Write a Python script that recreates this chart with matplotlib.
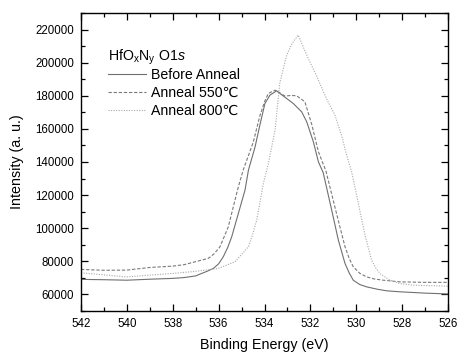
import matplotlib
matplotlib.use("Agg")
import matplotlib.pyplot as plt
from matplotlib.ticker import MultipleLocator, AutoMinorLocator

plt.rcParams['font.family'] = ['Liberation Sans', 'DejaVu Sans']
plt.rcParams['mathtext.fontset'] = 'custom'
plt.rcParams['mathtext.rm'] = 'Liberation Sans'
plt.rcParams['mathtext.it'] = 'Liberation Sans:italic'

# Before Anneal
be_before = [542.0, 541.0, 540.0, 539.0, 538.0, 537.5, 537.0, 536.74, 536.5, 536.23,
             536.0, 535.8, 535.6, 535.43, 535.14, 534.85, 534.7, 534.41, 534.2, 533.98,
             533.76, 533.47, 533.33, 533.0, 532.75, 532.38, 532.16, 531.87, 531.65, 531.44,
             531.07, 530.78, 530.49, 530.3, 530.13, 529.85, 529.55, 529.1, 528.68, 528.1,
             527.0, 526.0]
int_before = [69100, 68900, 68600, 69200, 69700, 70200, 71200, 72700, 74000, 75700,
              78500, 82700, 88500, 94800, 108900, 123000, 135100, 149200, 162400, 175400,
              180400, 183000, 181400, 178000, 175400, 170300, 164300, 152200, 140100, 133500,
              110900, 92800, 78700, 72800, 68600, 66000, 64600, 63200, 62200, 61600,
              60800, 60300]

# Anneal 550
be_550 = [542.0, 541.0, 540.0, 539.0, 538.0, 537.5, 537.03, 536.45, 536.2, 535.94,
          535.58, 535.14, 534.93, 534.49, 534.2, 533.98, 533.83, 533.54, 533.3, 533.1,
          532.85, 532.6, 532.24, 531.94, 531.65, 531.32, 530.86, 530.49, 530.3, 530.13,
          529.85, 529.55, 529.2, 528.82, 528.1, 527.0, 526.0]
int_550 = [75100, 74600, 74700, 76300, 77100, 78000, 79700, 81800, 84500, 88800,
           100800, 125000, 135100, 152000, 168000, 177000, 181400, 183400, 181500, 179800,
           180200, 180000, 176400, 162700, 146200, 134500, 108900, 88800, 81500, 76700,
           72800, 70600, 69300, 68600, 67600, 67300, 67300]

# Anneal 800
be_800 = [542.0, 541.0, 540.0, 539.0, 538.0, 537.03, 536.02, 535.29, 534.7, 534.5,
          534.34, 534.05, 533.83, 533.54, 533.33, 533.03, 532.8, 532.53, 532.16, 531.73,
          531.29, 530.93, 530.64, 530.42, 530.2, 529.91, 529.62, 529.33, 529.15, 528.97,
          528.53, 528.1, 527.5, 526.0]
int_800 = [73100, 71800, 70600, 71700, 72700, 73900, 75700, 79700, 88800, 97000,
           104900, 127000, 139100, 159300, 188000, 204600, 211500, 216700, 204600, 192000,
           178000, 168300, 156200, 144200, 134100, 115000, 96000, 80700, 76000, 72700,
           68600, 66600, 65600, 65000]

labels = ['Before Anneal', 'Anneal 550\u2103', 'Anneal 800\u2103']
title = 'HfO$_\\mathrm{x}$N$_\\mathrm{y}$ O1$\\mathit{s}$'

fig = plt.figure(figsize=(4.58, 3.54), dpi=100)
ax = fig.add_axes([81/458, 1-311/354, 367/458, 298/354])

ax.plot(be_before, int_before, color='#707070', lw=0.8, ls='-', label=labels[0])
ax.plot(be_550, int_550, color='#7a7a7a', lw=0.8, ls=(0, (3, 1.6)), label=labels[1])
ax.plot(be_800, int_800, color='#a8a8a8', lw=0.8, ls=(0, (1, 1.3)), label=labels[2])

ax.set_xlim(542, 526)
ax.set_ylim(50000, 230000)
ax.xaxis.set_major_locator(MultipleLocator(2))
ax.xaxis.set_minor_locator(AutoMinorLocator(2))
ax.yaxis.set_major_locator(MultipleLocator(20000))
ax.yaxis.set_minor_locator(AutoMinorLocator(2))
ax.tick_params(which='both', direction='in', top=True, right=True, labelsize=8.3, width=0.9)
ax.tick_params(which='major', length=5, pad=5)
ax.tick_params(which='minor', length=3)
for s in ax.spines.values():
    s.set_linewidth(1.0)

ax.set_xlabel('Binding Energy (eV)', fontsize=10.3, labelpad=6)
ax.set_ylabel('Intensity (a. u.)', fontsize=10.3, labelpad=8)

ax.text(27/367, (311-61)/298, title, transform=ax.transAxes, fontsize=10.2,
        ha='left', va='baseline')
leg = ax.legend(loc='upper left', bbox_to_anchor=(0.074, 0.815), frameon=False,
                fontsize=10.2, handlelength=2.7, handletextpad=0.35, labelspacing=0.28,
                borderpad=0, borderaxespad=0)

fig.savefig('out.png', dpi=100)
